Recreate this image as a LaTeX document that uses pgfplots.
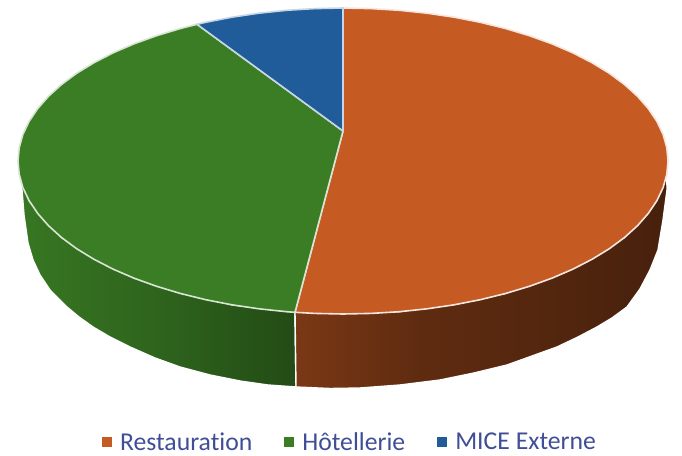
\documentclass[border=0pt]{standalone}
\usepackage{fontspec}
\setmainfont{Carlito}[Ligatures=NoCommon]
\usepackage{pgfplots}
\pgfplotsset{compat=1.18}
\definecolor{restau}{HTML}{C55A22}
\definecolor{hotel}{HTML}{3A7D24}
\definecolor{mice}{HTML}{1F5C99}
\definecolor{legtext}{HTML}{3F4E96}
% side walls of the disc, lighter towards the viewer's left
\pgfdeclarehorizontalshading{sidegreen}{100bp}{color(0bp)=(hotel!95!black); color(25bp)=(hotel!95!black); color(50bp)=(hotel!80!black); color(75bp)=(hotel!60!black); color(100bp)=(hotel!60!black)}
\pgfdeclarehorizontalshading{sidebrown}{100bp}{color(0bp)=(restau!62!black); color(25bp)=(restau!62!black); color(42bp)=(restau!48!black); color(60bp)=(restau!42!black); color(75bp)=(restau!36!black); color(100bp)=(restau!36!black)}
\begin{document}
\begin{tikzpicture}
\begin{axis}[
    scale only axis, width=682bp, height=456bp,
    xmin=0, xmax=682, ymin=0, ymax=456, y dir=reverse,
    axis line style={draw=none}, ticks=none, clip=false,
    legend columns=3,
    legend cell align=left,
    legend style={draw=none, fill=none, at={(axis cs:350,442)}, anchor=center,
        inner sep=0pt, outer sep=0pt,
        font=\fontsize{25.8pt}{27pt}\selectfont\color{legtext},
        nodes={inner xsep=2bp},
        /tikz/every odd column/.append style={column sep=6bp},
        /tikz/every even column/.append style={column sep=30bp}},
    legend image code/.code={\fill[#1,draw=none] (0bp,-5bp) rectangle (10bp,5bp);},
]
% sides
\addplot[forget plot, draw=white, line width=1.4bp, shading=sidegreen] coordinates {
 (19.2,174.3)(22,190)(24,215)(28,243)(33,260)(40,275)(50,290)(67,307)(79,317)(93,327)(110,337)(130,347)(155,358)(180,367)(210,375)(240,381)(268,385)(296,387)
 (295,312.3)(231.8,304.8)(134.1,278.2)(61.5,237.5)(29.1,200.6)} -- cycle;
\addplot[forget plot, draw=white, line width=1.4bp, shading=sidebrown] coordinates {
 (296,387)(330,388.5)(360,388)(400,385)(440,380)(474,373)(507,365)(532,356)(557,347)(578,337)(597,327)(612,318)(627,307)(640,289)(650,270)(658,250)(663,220)(667,190)(666.8,174.3)
 (624.5,237.5)(505.5,293.5)(399.4,311.7)(295,312.3)} -- cycle;
% top of the disc: shares about 52 / 39 / 9
\addplot[draw=white!85!restau, line width=1.6bp, fill=restau] coordinates {
 (343,131)(343,8)(371.3,8.6)(399.4,10.3)(427.1,13.2)(454.2,17.2)(480.3,22.3)(505.5,28.5)(529.4,35.7)(551.9,43.8)(572.8,52.8)(592,62.7)(609.2,73.2)(624.5,84.5)(637.5,96.3)(648.4,108.7)(656.9,121.4)(663.1,134.4)(666.8,147.7)(668,161)
 (666.8,174.3)(663.1,187.6)(656.9,200.6)(648.4,213.3)(637.5,225.7)(624.5,237.5)(609.2,248.8)(592,259.3)(572.8,269.2)(551.9,278.2)(529.4,286.3)(505.5,293.5)(480.3,299.7)(454.2,304.8)(427.1,308.8)(399.4,311.7)(371.3,313.4)(343,314)(314.7,313.4)(295,312.3)} -- cycle;
\addlegendentry{Restauration}
\addplot[draw=white!80!hotel, line width=1.6bp, fill=hotel] coordinates {
 (343,131)(295,312.3)(286.6,311.7)(258.9,308.8)(231.8,304.8)(205.7,299.7)(180.5,293.5)(156.6,286.3)(134.1,278.2)(113.2,269.2)(94,259.3)(76.8,248.8)(61.5,237.5)(48.5,225.7)(37.6,213.3)(29.1,200.6)(22.9,187.6)(19.2,174.3)(18,161)
 (19.2,147.7)(22.9,134.4)(29.1,121.4)(37.6,108.7)(48.5,96.3)(61.5,84.5)(76.8,73.2)(94,62.7)(113.2,52.8)(134.1,43.8)(156.6,35.7)(180.5,28.5)(197,24.3)} -- cycle;
\addlegendentry{Hôtellerie}
\addplot[draw=white!75!mice, line width=1.6bp, fill=mice] coordinates {
 (343,131)(197,24.3)(205.7,22.3)(231.8,17.2)(258.9,13.2)(286.6,10.3)(314.7,8.6)(343,8)} -- cycle;
\addlegendentry{MICE Externe}
\path (rel axis cs:0,0) rectangle (rel axis cs:1,1);
\end{axis}
\end{tikzpicture}
\end{document}
